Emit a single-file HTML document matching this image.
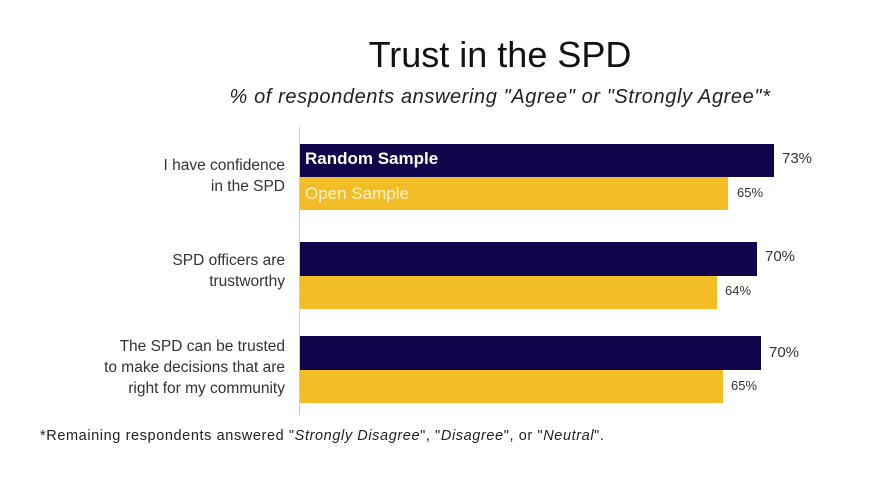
<!DOCTYPE html>
<html><head><style>
body{margin:0;width:880px;height:488px;background:#fff;font-family:"Liberation Sans",sans-serif;position:relative;overflow:hidden}
div{position:absolute}
.n{background:#10054a}.y{background:#f2bd26}
.lab{right:595px;text-align:right;font-size:15.5px;color:#333;line-height:21px;white-space:nowrap}
.v{color:#333}
</style></head><body>
<div style="left:0;width:1000px;top:34px;text-align:center;font-size:36px;color:#111">Trust in the SPD</div>
<div style="left:0;width:1000px;top:86px;text-align:center;font-size:20px;letter-spacing:0.6px;font-style:italic;color:#222">% of respondents answering "Agree" or "Strongly Agree"*</div>
<div style="left:299px;top:127px;width:1px;height:288px;background:#ccc"></div>
<div class="n" style="left:300px;top:144px;width:474px;height:33px"></div>
<div class="y" style="left:300px;top:177px;width:428px;height:33px"></div>
<div class="n" style="left:300px;top:242px;width:457px;height:34px"></div>
<div class="y" style="left:300px;top:276px;width:417px;height:33px"></div>
<div class="n" style="left:300px;top:336px;width:461px;height:34px"></div>
<div class="y" style="left:300px;top:370px;width:423px;height:33px"></div>
<div style="left:305px;top:149px;color:#fff;font-weight:bold;font-size:17px">Random Sample</div>
<div style="left:305px;top:184px;color:#fff3c8;font-size:17px">Open Sample</div>
<div class="v" style="left:782px;top:150px;font-size:15px">73%</div>
<div class="v" style="left:737px;top:185px;font-size:13px">65%</div>
<div class="v" style="left:765px;top:248px;font-size:15px">70%</div>
<div class="v" style="left:725px;top:283px;font-size:13px">64%</div>
<div class="v" style="left:769px;top:344px;font-size:15px">70%</div>
<div class="v" style="left:731px;top:378px;font-size:13px">65%</div>
<div class="lab" style="top:155px">I have confidence<br>in the SPD</div>
<div class="lab" style="top:250px">SPD officers are<br>trustworthy</div>
<div class="lab" style="top:336px">The SPD can be trusted<br>to make decisions that are<br>right for my community</div>
<div style="left:40px;top:428px;font-size:14.5px;letter-spacing:0.6px;color:#222;white-space:nowrap">*Remaining respondents answered "<i>Strongly Disagree</i>", "<i>Disagree</i>", or "<i>Neutral</i>".</div>
</body></html>
